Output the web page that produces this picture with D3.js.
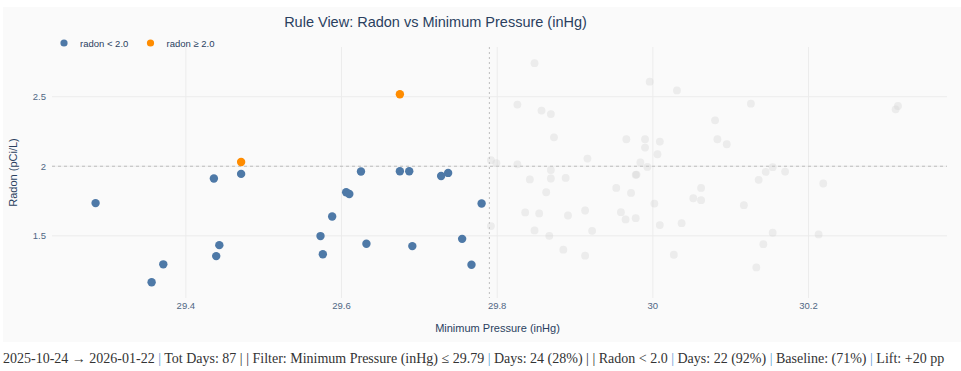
<!DOCTYPE html>
<html>
<head>
<meta charset="utf-8">
<script src="https://cdn.jsdelivr.net/npm/d3@7"></script>
<style>
  body { margin: 0; background: #fff; }
  svg text { font-family: "Liberation Sans", Arial, sans-serif; }
</style>
</head>
<body>
<div id="chart"></div>
<script>
// days inside the filter (min pressure <= 29.79)
const activePressure = [29.284, 29.356, 29.371, 29.436, 29.471, 29.471, 29.443, 29.439, 29.573, 29.576, 29.588, 29.606,
  29.610, 29.632, 29.625, 29.691, 29.675, 29.687, 29.675, 29.728, 29.737, 29.755, 29.767, 29.780];
const activeRadon = [1.735, 1.166, 1.295, 1.912, 1.945, 2.031, 1.433, 1.354, 1.498, 1.367, 1.639, 1.813,
  1.801, 1.443, 1.962, 1.426, 1.964, 1.964, 2.517, 1.930, 1.952, 1.478, 1.292, 1.732];

// days outside the filter
const otherPressure = [29.848, 29.996, 30.031, 29.826, 29.857, 29.869, 30.126, 30.315, 30.312, 30.080, 29.873, 29.966,
  29.990, 30.009, 30.083, 30.095, 29.990, 30.006, 29.916, 29.792, 29.799, 29.826, 29.984, 29.993,
  29.869, 30.154, 30.145, 30.170, 29.978, 29.842, 29.869, 29.888, 30.136, 30.219, 29.953, 30.062,
  29.863, 29.972, 30.052, 30.062, 30.002, 30.117, 29.836, 29.854, 29.891, 29.913, 29.959, 29.965,
  29.978, 30.009, 30.037, 29.792, 29.848, 29.867, 29.922, 30.154, 30.213, 30.142, 29.885, 29.913,
  30.027, 30.133, 29.979];
const otherRadon = [2.741, 2.608, 2.545, 2.443, 2.400, 2.375, 2.450, 2.433, 2.409, 2.330, 2.208, 2.194,
  2.194, 2.177, 2.194, 2.158, 2.134, 2.086, 2.055, 2.043, 2.022, 2.014, 2.027, 1.995,
  1.973, 1.993, 1.959, 1.962, 1.938, 1.905, 1.912, 1.916, 1.902, 1.876, 1.844, 1.844,
  1.813, 1.808, 1.770, 1.756, 1.732, 1.720, 1.668, 1.661, 1.646, 1.682, 1.670, 1.618,
  1.627, 1.577, 1.591, 1.570, 1.539, 1.500, 1.536, 1.522, 1.510, 1.440, 1.400, 1.357,
  1.364, 1.273, 1.940];

const xTicks = [29.4, 29.6, 29.8, 30, 30.2];
const yTicks = [1.5, 2, 2.5];
const pressureCut = 29.79;
const radonCut = 2.0;

const footerParts = [
  ['2025-10-24 \u2192 2026-01-22 ', 'text'], ['| ', 'blue'], ['Tot Days: 87 ', 'text'], ['| | ', 'text'],
  ['Filter: Minimum Pressure (inHg) \u2264 29.79 ', 'text'], ['| ', 'blue'], ['Days: 24 (28%) ', 'text'],
  ['| | ', 'text'], ['Radon < 2.0 ', 'text'], ['| ', 'blue'], ['Days: 22 (92%) ', 'text'], ['| ', 'blue'],
  ['Baseline: (71%) ', 'text'], ['| ', 'blue'], ['Lift: +20 pp', 'text']
];

const W = 961, H = 371;
const svg = d3.select('#chart').append('svg').attr('width', W).attr('height', H);

svg.append('rect').attr('x', 3).attr('y', 7).attr('width', 958).attr('height', 335).attr('fill', '#fafafa');

const x = d3.scaleLinear().domain([29.228, 30.378]).range([52, 947]);
const y = d3.scaleLinear().domain([1.053, 2.857]).range([298, 47]);
const fmt = d => String(+d.toFixed(1));

// grid
svg.append('g').selectAll('line').data(xTicks).enter().append('line')
  .attr('x1', d => x(d)).attr('x2', d => x(d)).attr('y1', 47).attr('y2', 298)
  .attr('stroke', '#ececec').attr('stroke-width', 1);
svg.append('g').selectAll('line').data(yTicks).enter().append('line')
  .attr('x1', 52).attr('x2', 947).attr('y1', d => y(d)).attr('y2', d => y(d))
  .attr('stroke', '#ececec').attr('stroke-width', 1);

// tick labels
svg.append('g').selectAll('text').data(xTicks).enter().append('text')
  .attr('x', d => x(d)).attr('y', 309).attr('text-anchor', 'middle')
  .attr('font-size', 9.5).attr('fill', '#506784').text(fmt);
svg.append('g').selectAll('text').data(yTicks).enter().append('text')
  .attr('x', 46).attr('y', d => y(d) + 3.5).attr('text-anchor', 'end')
  .attr('font-size', 9.5).attr('fill', '#506784').text(fmt);

// rule lines
svg.append('line').attr('x1', 52).attr('x2', 947).attr('y1', y(radonCut)).attr('y2', y(radonCut))
  .attr('stroke', '#bdbdbd').attr('stroke-width', 1).attr('stroke-dasharray', '3,3');
svg.append('line').attr('x1', x(pressureCut)).attr('x2', x(pressureCut)).attr('y1', 47).attr('y2', 298)
  .attr('stroke', '#bdbdbd').attr('stroke-width', 1).attr('stroke-dasharray', '2,3');

// points
const others = otherPressure.map((p, i) => ({ p, r: otherRadon[i] }));
const active = activePressure.map((p, i) => ({ p, r: activeRadon[i] }));

svg.append('g').selectAll('circle').data(others).enter().append('circle')
  .attr('cx', d => x(d.p)).attr('cy', d => y(d.r)).attr('r', 3.9)
  .attr('fill', '#d3d3d3').attr('fill-opacity', 0.36);

svg.append('g').selectAll('circle').data(active).enter().append('circle')
  .attr('cx', d => x(d.p)).attr('cy', d => y(d.r)).attr('r', 4.2)
  .attr('fill', d => d.r >= radonCut ? '#ff8c00' : '#4e79a7');

// legend
const legend = [['radon < 2.0', '#4e79a7', 64], ['radon \u2265 2.0', '#ff8c00', 150.5]];
legend.forEach(([label, c, lx]) => {
  svg.append('circle').attr('cx', lx).attr('cy', 43).attr('r', 3.6).attr('fill', c);
  svg.append('text').attr('x', lx + 16).attr('y', 46.5).attr('font-size', 9.5).attr('fill', '#2a3f5f').text(label);
});

// titles
svg.append('text').attr('x', 435.5).attr('y', 27).attr('text-anchor', 'middle')
  .attr('font-size', 14.5).attr('fill', '#2a3f5f').text('Rule View: Radon vs Minimum Pressure (inHg)');
svg.append('text').attr('x', 497.5).attr('y', 332).attr('text-anchor', 'middle')
  .attr('font-size', 11).attr('fill', '#2a3f5f').text('Minimum Pressure (inHg)');
svg.append('text').attr('transform', 'translate(17,172.5) rotate(-90)').attr('text-anchor', 'middle')
  .attr('font-size', 11).attr('fill', '#2a3f5f').text('Radon (pCi/L)');

// footer summary
const footer = svg.append('text').attr('x', 3).attr('y', 362.5)
  .style('font-family', '"Liberation Serif", "Times New Roman", serif').attr('font-size', 14)
  .attr('fill', '#333').attr('xml:space', 'preserve');
footerParts.forEach(([t, kind]) => {
  footer.append('tspan').attr('fill', kind === 'blue' ? '#5b9bd5' : '#333').text(t);
});
</script>
</body>
</html>
